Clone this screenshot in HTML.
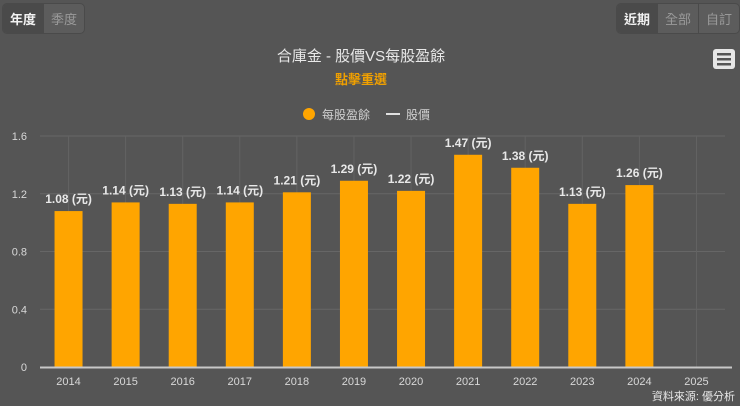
<!DOCTYPE html>
<html><head><meta charset="utf-8"><style>
body{margin:0;background:#555555;font-family:"Liberation Sans","Noto Sans CJK TC",sans-serif;}
#w{position:relative;width:740px;height:406px;overflow:hidden;background:#555555;}
.grp{position:absolute;top:3px;display:flex;border-radius:5px;overflow:hidden;background:#5c5c5c;border:1px solid #4a4a4a;}
.grp div{padding:5px 7px;font-size:13px;color:#9a9a9a;border-right:1px solid #4a4a4a;}
.grp div.on{background:#4a4a4a;color:#f2f2f2;font-weight:bold;}
</style></head><body>
<div id="w">
<div class="grp" style="left:2px">
<div class="on">年度</div><div style="border-right:none">季度</div></div>
<div class="grp" style="right:0">
<div class="on">近期</div><div>全部</div><div style="border-right:none">自訂</div></div>
<svg id="s" width="740" height="406" style="position:absolute;left:0;top:0">
<text x="361" y="61" text-anchor="middle" fill="#e8e8e8" font-size="15">合庫金 - 股價VS每股盈餘</text>
<text x="361" y="84" text-anchor="middle" fill="#f0a000" font-size="13" font-weight="bold">點擊重選</text>
<g><rect x="713" y="49" width="22" height="20" rx="3" fill="#e6e6e6"/><rect x="717" y="53" width="14" height="2.5" fill="#555"/><rect x="717" y="58" width="14" height="2.5" fill="#555"/><rect x="717" y="63" width="14" height="2.5" fill="#555"/></g>
<g><circle cx="309" cy="114" r="6" fill="#ffa500"/><text x="322" y="119" fill="#d0d0d0" font-size="12">每股盈餘</text></g>
<g><line x1="386" y1="114" x2="400" y2="114" stroke="#e0e0e0" stroke-width="2"/><text x="406" y="119" fill="#d0d0d0" font-size="12">股價</text></g>
<g id="g"></g>
<text x="735" y="400" text-anchor="end" fill="#e8e8e8" font-size="11">資料來源: 優分析</text>
</svg></div>
<script>
const categories=["2014","2015","2016","2017","2018","2019","2020","2021","2022","2023","2024","2025"];
const epsValues=[1.08,1.14,1.13,1.14,1.21,1.29,1.22,1.47,1.38,1.13,1.26,null];
const yTicks=[0,0.4,0.8,1.2,1.6];
const L=40,R=725,B=367,T=136,yMax=1.6;
const slot=(R-L)/categories.length;
const xc=i=>L+slot*(i+0.5);
const y=v=>B-(v/yMax)*(B-T);
const g=document.getElementById('g');
const NS='http://www.w3.org/2000/svg';
function mk(t,a){const e=document.createElementNS(NS,t);for(const k in a)e.setAttribute(k,a[k]);g.appendChild(e);return e;}
yTicks.forEach(t=>{
 if(t>0){const l=mk('line',{x1:L,x2:R,y1:y(t),y2:y(t),stroke:'#666',"stroke-width":1});
 
 }
 const tx=mk('text',{x:27,y:y(t)+4,"text-anchor":"end",fill:"#d8d8d8","font-size":11});tx.textContent=String(t);
 
 
});
categories.forEach((c,i)=>{
 const l=mk('line',{x1:xc(i),x2:xc(i),y1:T,y2:B,stroke:'#636363',"stroke-width":1});
 
 
 const tx=mk('text',{x:xc(i),y:385,"text-anchor":"middle",fill:"#d8d8d8","font-size":11});tx.textContent=c;
 
 
});
epsValues.forEach((v,i)=>{
 if(v==null)return;
 const r=mk('rect',{x:xc(i)-14,y:y(v),width:28,height:B-y(v),fill:'#ffa500'});
 
 
 const tx=mk('text',{x:xc(i),y:y(v)-8,"text-anchor":"middle",fill:"#e8e8e8","font-size":12,"font-weight":"bold"});tx.textContent=v.toFixed(2)+' (元)';
 
 
});
const ax=mk('line',{x1:L,x2:R+7,y1:B+0.5,y2:B+0.5,stroke:'#c8c8c8',"stroke-width":2});


</script></body></html>
